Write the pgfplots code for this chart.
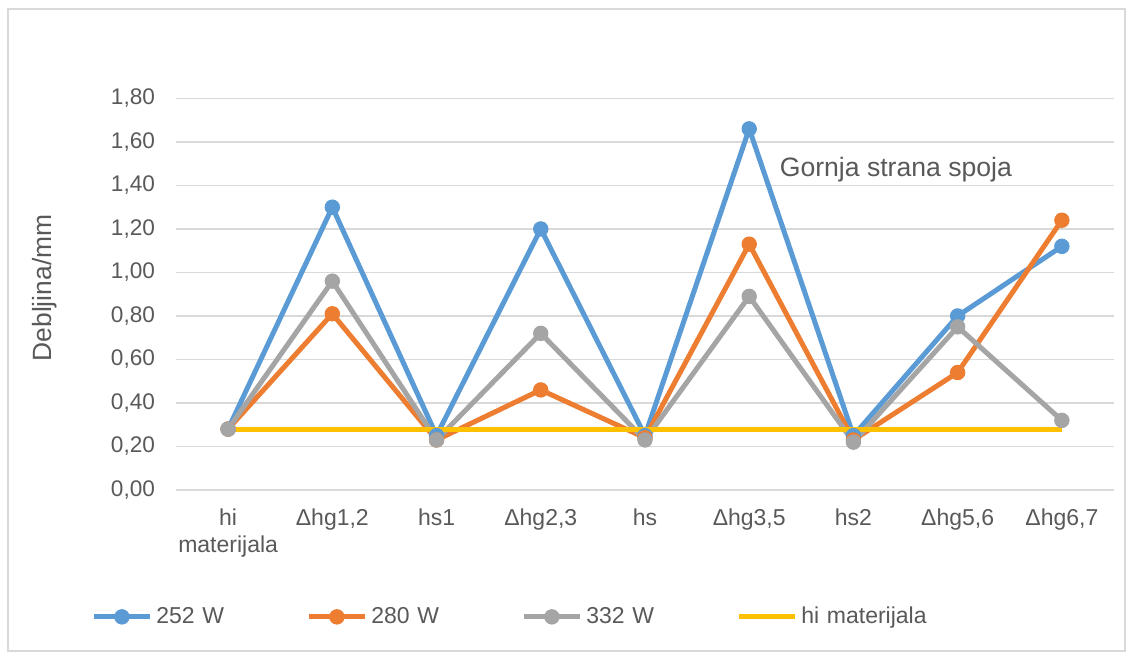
\documentclass[border=0pt]{standalone}
\usepackage{pgfplots}
\pgfplotsset{compat=1.18}
\usepackage{fontspec}
\setmainfont{Liberation Sans}
\definecolor{cblue}{HTML}{5B9BD5}
\definecolor{corange}{HTML}{ED7D31}
\definecolor{cgray}{HTML}{A5A5A5}
\definecolor{cyellow}{HTML}{FFC000}
\definecolor{gridc}{HTML}{D9D9D9}
\definecolor{textc}{HTML}{595959}
\begin{document}
\begin{tikzpicture}[x=1pt,y=1pt]
\useasboundingbox (0,0) rectangle (566,326.5);
\draw[color=gridc, line width=0.75pt] (4,1) rectangle (562.5,322);
\begin{axis}[
  at={(88pt,81.5pt)}, anchor=south west,
  scale only axis, width=469pt, height=195.8pt,
  xmin=-0.5, xmax=8.5, ymin=0, ymax=1.8,
  xtick={0,1,2,3,4,5,6,7,8},
  xticklabels={{hi\\materijala},{Δhg1,2},{hs1},{Δhg2,3},{hs},{Δhg3,5},{hs2},{Δhg5,6},{Δhg6,7}},
  ytick={0,0.2,0.4,0.6,0.8,1.0,1.2,1.4,1.6,1.8},
  major tick length=0pt,
  axis line style={draw=none},
  ymajorgrids, grid style={color=gridc, line width=0.75pt},
  /pgf/number format/assume math mode=true,
  yticklabel style={/pgf/number format/fixed, /pgf/number format/fixed zerofill, /pgf/number format/precision=2, /pgf/number format/use comma},
  yticklabel style={font=\fontsize{11.3}{13}\selectfont, text=textc, xshift=-7pt},
  xticklabel style={font=\fontsize{11.5}{13.5}\selectfont, text=textc, align=center, yshift=-6pt},
  ylabel={Debljina/mm},
  ylabel style={at={(axis description cs:-0.140,0.516)}, anchor=center, font=\fontsize{13.2}{15}\selectfont, text=textc},
  legend columns=4,
  legend style={draw=none, at={(axis description cs:-0.097,-0.324)}, anchor=west,
    font=\fontsize{11.5}{13.5}\selectfont, text=textc,
    /tikz/every even column/.append style={text width=73pt}},
  legend cell align=left,
  legend image code/.code={\draw[mark repeat=2,mark phase=2,#1] plot coordinates {(0pt,0pt) (14pt,0pt) (28pt,0pt)};},
  every axis plot/.append style={line width=2.5pt},
]
\addplot[color=cblue, mark=*, mark size=3.6pt, mark options={solid, fill=cblue, line width=0.5pt}] coordinates {
(0,0.28) (1,1.30) (2,0.25) (3,1.20) (4,0.25) (5,1.66) (6,0.25) (7,0.80) (8,1.12)};
\addlegendentry{252 W}
\addplot[color=corange, mark=*, mark size=3.6pt, mark options={solid, fill=corange, line width=0.5pt}] coordinates {
(0,0.28) (1,0.81) (2,0.23) (3,0.46) (4,0.24) (5,1.13) (6,0.23) (7,0.54) (8,1.24)};
\addlegendentry{280 W}
\addplot[color=cgray, mark=*, mark size=3.6pt, mark options={solid, fill=cgray, line width=0.5pt}] coordinates {
(0,0.28) (1,0.96) (2,0.23) (3,0.72) (4,0.23) (5,0.89) (6,0.22) (7,0.75) (8,0.32)};
\addlegendentry{332 W}
\addplot[color=cyellow, no marks] coordinates {
(0,0.28) (1,0.28) (2,0.28) (3,0.28) (4,0.28) (5,0.28) (6,0.28) (7,0.28) (8,0.28)};
\addlegendentry{hi materijala}
\node[anchor=west, inner sep=0pt, font=\fontsize{13.3}{16}\selectfont, text=textc] at (axis cs:5.29,1.473) {Gornja strana spoja};
\end{axis}
\end{tikzpicture}
\end{document}
